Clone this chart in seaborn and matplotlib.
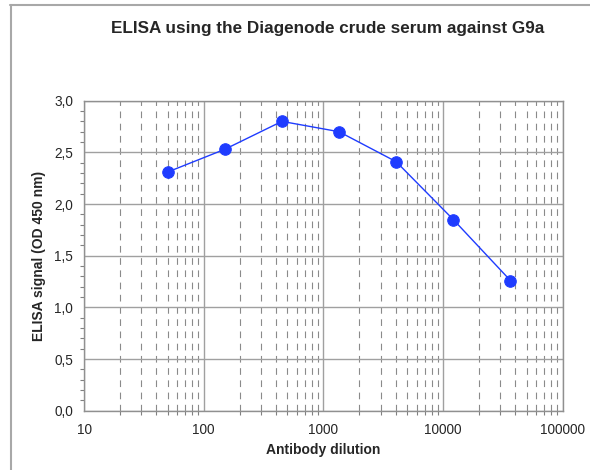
import matplotlib
matplotlib.use("Agg")
import matplotlib.pyplot as plt
import seaborn as sns
import pandas as pd
from matplotlib.ticker import FuncFormatter, LogLocator, MultipleLocator
from matplotlib.lines import Line2D

dilution = [50, 150, 450, 1350, 4050, 12150, 36450]
signal = [2.31, 2.53, 2.80, 2.70, 2.41, 1.85, 1.26]
title = "ELISA using the Diagenode crude serum against G9a"
xlabel = "Antibody dilution"
ylabel = "ELISA signal (OD 450 nm)"

sns.set_style("white")
plt.rcParams['font.family'] = ['Liberation Sans', 'DejaVu Sans']

df = pd.DataFrame({"dilution": dilution, "signal": signal})

fig = plt.figure(figsize=(5.9, 4.7), dpi=100)
ax = fig.add_axes([0.1424, 0.1262, 0.954 - 0.1424, 0.7857 - 0.1262])

sns.lineplot(data=df, x="dilution", y="signal", ax=ax, color="#1f3cff",
             marker="o", markersize=8.3, markeredgecolor="#1f3cff",
             linewidth=1.0, zorder=5)

ax.set_xscale("log")
ax.set_xlim(10, 100000)
ax.set_ylim(0, 3.0)

ax.xaxis.set_major_locator(LogLocator(base=10, numticks=10))
ax.xaxis.set_minor_locator(LogLocator(base=10, subs=range(2, 10), numticks=20))
ax.xaxis.set_major_formatter(FuncFormatter(lambda v, p: f"{int(round(v))}"))
ax.xaxis.set_minor_formatter(FuncFormatter(lambda v, p: ""))

ax.yaxis.set_major_locator(MultipleLocator(0.5))
ax.yaxis.set_minor_locator(MultipleLocator(0.1))
ax.yaxis.set_major_formatter(FuncFormatter(lambda v, p: f"{v:.1f}".replace(".", ",")))

ax.grid(True, which="major", axis="both", color="#a0a0a0", linewidth=1.0, linestyle="-")
ax.grid(True, which="minor", axis="x", color="#8a8a8a", linewidth=0.8, linestyle=(0, (6, 5)))
ax.set_axisbelow(True)

for s in ax.spines.values():
    s.set_color("#909090")
    s.set_linewidth(1.0)

ax.tick_params(axis="both", which="major", direction="out", length=4, width=0.8,
               color="#808080", labelsize=9.8, pad=4)
ax.tick_params(axis="both", which="minor", direction="out", length=3, width=0.8,
               color="#808080")
ax.tick_params(axis="x", which="major", pad=5)
ax.tick_params(axis="y", which="minor", left=True)
ax.tick_params(axis="x", which="minor", bottom=True)

ax.set_xlabel(xlabel, fontsize=10, fontweight="bold", labelpad=4)
ax.set_ylabel(ylabel, fontsize=10, fontweight="bold", labelpad=6)

fig.text(0.555, 1 - 28 / 470, title, ha="center", va="center",
         fontsize=12.3, fontweight="bold")

# figure frame lines (top and left)
fig.add_artist(Line2D([10 / 590, 1.0], [1 - 5 / 470, 1 - 5 / 470],
                      transform=fig.transFigure, color="#a8a8a8", linewidth=1.5))
fig.add_artist(Line2D([11 / 590, 11 / 590], [0.0, 1 - 5 / 470],
                      transform=fig.transFigure, color="#a8a8a8", linewidth=1.5))

fig.savefig("out.png", dpi=100)
